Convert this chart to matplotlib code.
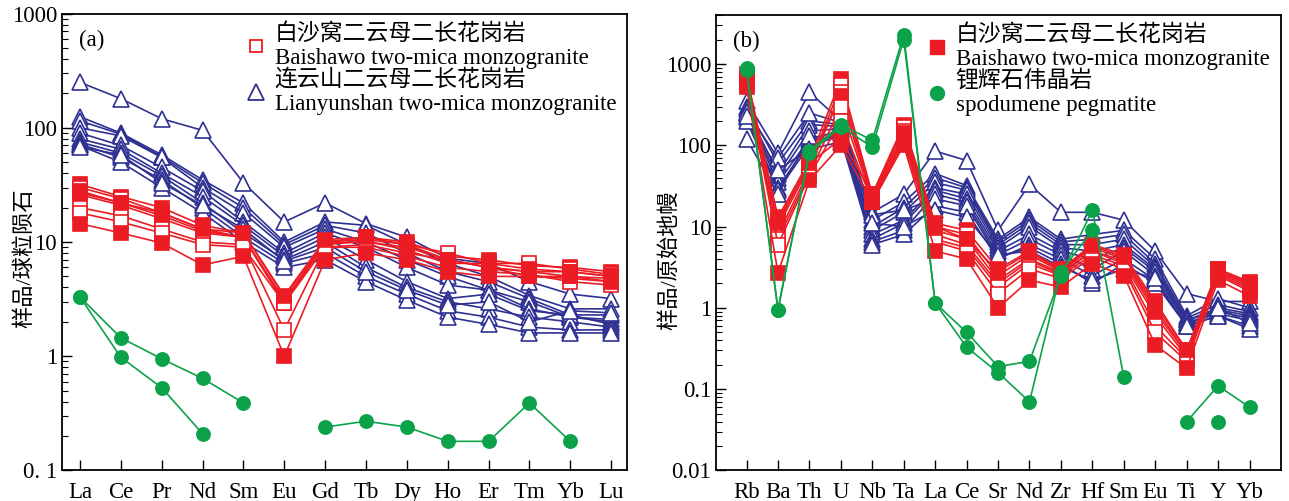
import numpy as np
import matplotlib
matplotlib.use("Agg")
import matplotlib.pyplot as plt

nan = np.nan

# ---- panel (a): chondrite-normalised REE ----
ree = ['La', 'Ce', 'Pr', 'Nd', 'Sm', 'Eu', 'Gd', 'Tb', 'Dy', 'Ho', 'Er', 'Tm', 'Yb', 'Lu']

ree_lianyunshan = [
    [250, 180, 120, 95, 33, 15, 22, 14.5, 11, 7.2, 6.5, 4.5, 3.5, 3.2],
    [125, 90, 58, 35, 22, 10, 15, 14, 9.5, 6.5, 5.0, 3.4, 2.6, 2.6],
    [115, 88, 56, 33, 20, 9.5, 14, 12, 8.0, 5.5, 4.5, 3.2, 2.3, 2.3],
    [100, 85, 55, 30, 18, 9.0, 13, 10, 7.0, 5.0, 3.8, 3.0, 2.2, 2.1],
    [90, 70, 45, 28, 15, 8.0, 12, 9.0, 6.0, 4.2, 3.8, 2.6, 2.2, 2.0],
    [80, 65, 40, 25, 14, 7.5, 11, 7.0, 4.5, 3.2, 3.5, 2.5, 2.3, 1.9],
    [75, 60, 38, 22, 12, 7.0, 10, 6.0, 4.0, 3.0, 2.6, 2.2, 2.0, 1.8],
    [72, 55, 35, 20, 11, 6.5, 8.0, 5.0, 3.5, 2.5, 2.2, 1.8, 1.7, 1.7],
    [70, 50, 30, 18, 10, 6.0, 7.0, 4.5, 3.1, 2.2, 1.9, 1.6, 1.6, 1.6],
    [68, 58, 33, 21, 13, 6.8, 9.0, 5.5, 3.8, 2.8, 3.0, 2.0, 2.5, 2.4],
]

ree_baishawo = [
    [32, 25, 20, 14, 12, 3.3, 10, 11, 10, 7.5, 7.0, 6.2, 6.0, 5.5],
    [30, 24, 18, 13, 11, 3.0, 10, 10.5, 9.5, 8.0, 6.5, 6.5, 5.8, 5.2],
    [27, 22, 17, 12.5, 11, 2.9, 9.8, 10, 9.0, 7.0, 6.0, 5.5, 5.5, 5.0],
    [26, 21, 16, 12, 11, 3.1, 9.5, 10.2, 8.5, 6.5, 6.5, 5.8, 5.5, 5.0],
    [20, 17, 13, 10, 9.5, 1.7, 9.0, 9.5, 8.0, 7.0, 6.0, 5.0, 4.8, 4.5],
    [18, 15, 12, 9.5, 9.0, 2.9, 9.0, 9.0, 7.5, 6.0, 5.5, 5.2, 4.5, 4.2],
    [14.5, 12, 9.8, 6.3, 7.5, 1.0, 7.0, 8.0, 7.0, 5.5, 5.0, 5.0, 5.0, 4.8],
    [28, 22, 18, 13, 12, 3.4, 10.5, 11, 9.5, 7.0, 6.0, 5.5, 5.0, 4.5],
]
ree_baishawo_filled = [True, False, False, True, False, False, True, True]

ree_pegmatite = [
    [3.3, 1.45, 0.95, 0.64, 0.39, nan, 0.24, 0.27, 0.24, 0.18, 0.18, 0.39, 0.18, nan],
    [3.3, 0.98, 0.53, 0.21, nan, nan, nan, nan, nan, nan, nan, nan, nan, nan],
]

# ---- panel (b): primitive-mantle-normalised trace elements ----
trace = ['Rb', 'Ba', 'Th', 'U', 'Nb', 'Ta', 'La', 'Ce', 'Sr', 'Nd', 'Zr', 'Hf',
         'Sm', 'Eu', 'Ti', 'Y', 'Yb']

tr_lianyunshan = [
    [350, 80, 450, 200, 15, 25, 85, 65, 9.0, 33, 15, 15, 12, 5.0, 1.5, 1.2, 1.2],
    [300, 60, 200, 180, 12, 20, 45, 32, 7.0, 13, 7.0, 8.0, 9.0, 4.0, 0.8, 1.3, 1.0],
    [280, 45, 180, 170, 10, 17, 40, 30, 6.5, 12, 6.5, 7.0, 8.0, 3.5, 0.75, 1.1, 0.9],
    [250, 40, 150, 160, 9.0, 15, 35, 28, 6.0, 11, 6.0, 6.0, 7.0, 3.2, 0.7, 1.0, 0.85],
    [240, 35, 120, 150, 8.0, 12, 30, 25, 5.5, 10, 5.5, 5.0, 6.0, 3.0, 0.7, 0.95, 0.8],
    [220, 30, 110, 140, 7.0, 11, 28, 22, 5.0, 8.0, 5.0, 4.0, 5.5, 2.8, 0.65, 0.9, 0.75],
    [200, 28, 100, 130, 6.5, 9.0, 25, 20, 4.5, 7.0, 4.5, 3.0, 5.0, 2.5, 0.65, 0.85, 0.7],
    [120, 25, 130, 120, 6.0, 8.0, 18, 15, 4.0, 6.0, 4.0, 2.5, 4.0, 2.2, 0.6, 0.8, 0.6],
    [260, 70, 250, 190, 14, 16, 22, 18, 4.2, 5.5, 3.5, 2.0, 3.5, 2.0, 0.6, 0.8, 0.55],
    [230, 50, 90, 110, 11, 10, 16, 13, 4.5, 5.0, 3.2, 2.2, 3.0, 2.3, 0.6, 1.0, 0.65],
]

tr_baishawo = [
    [700, 13, 65, 650, 25, 180, 11, 9.0, 3.0, 5.0, 3.0, 6.0, 4.5, 1.2, 0.3, 3.0, 2.1],
    [650, 10, 55, 550, 24, 170, 10, 8.0, 2.5, 4.5, 2.8, 5.5, 4.0, 1.0, 0.28, 2.9, 2.0],
    [600, 8.0, 50, 450, 23, 150, 9.0, 7.0, 2.2, 4.0, 2.7, 5.0, 3.8, 0.9, 0.27, 2.8, 1.9],
    [620, 12, 60, 400, 22, 130, 8.0, 6.0, 2.0, 3.8, 2.6, 5.0, 3.5, 0.8, 0.25, 2.7, 1.8],
    [580, 7.0, 45, 300, 21, 120, 7.0, 5.5, 1.8, 3.5, 2.5, 4.5, 3.3, 0.6, 0.24, 2.6, 1.7],
    [560, 6.0, 42, 200, 20, 110, 6.5, 5.0, 1.5, 3.0, 2.3, 4.2, 3.0, 0.5, 0.22, 2.5, 1.6],
    [520, 2.7, 37, 100, 20, 100, 5.0, 4.0, 1.0, 2.2, 1.8, 3.5, 2.5, 0.35, 0.18, 2.2, 1.4],
    [750, 11, 60, 120, 25, 140, 10, 7.0, 2.8, 4.8, 2.9, 5.8, 4.2, 1.1, 0.3, 3.0, 2.0],
]
tr_baishawo_filled = [True, False, False, True, False, False, True, True]

tr_pegmatite = [
    [900, 0.95, 85, 180, 115, 2300, 1.15, 0.5, 0.19, 0.22, 2.5, 16, 0.14, nan, 0.04, 0.11, 0.06],
    [850, 0.95, 80, 170, 95, 2000, 1.15, 0.33, 0.16, 0.07, 2.8, 9.0, nan, nan, nan, 0.04, nan],
]

RED = '#ec1c24'
BLUE = '#2e3192'
GREEN = '#0ca24a'

plt.rcParams['font.family'] = ['Liberation Serif', 'Noto Sans CJK SC', 'DejaVu Sans']
plt.rcParams['axes.unicode_minus'] = False

fig = plt.figure(figsize=(12.89, 5.01), dpi=100)
ax1 = fig.add_axes([0.0481, 0.0609, 0.4387, 0.912])
ax2 = fig.add_axes([0.5555, 0.0609, 0.4383, 0.909])


def draw_lines(ax, rows, color, marker, ms, filled=None, z=2):
    x = np.arange(len(rows[0]))
    for i, row in enumerate(rows):
        face = color if (filled is None or filled[i]) else 'white'
        if marker == '^':
            face = 'white'
        ax.plot(x, row, color=color, lw=1.2, marker=marker, ms=ms,
                mfc=face, mec=color, mew=1.2, zorder=z)


def style_axis(ax, names, xlim, ylim):
    ax.set_yscale('log')
    ax.set_xlim(*xlim)
    ax.set_ylim(*ylim)
    ax.set_xticks(np.arange(len(names)))
    ax.set_xticklabels(names)
    ax.tick_params(axis='both', which='major', direction='in', length=7,
                   width=1.0, labelsize=16.5, top=False, right=False)
    ax.tick_params(axis='y', which='minor', direction='in', length=4,
                   width=0.8, right=False)
    ax.tick_params(axis='x', which='major', pad=8)
    for s in ax.spines.values():
        s.set_linewidth(1.3)


# panel (a)
draw_lines(ax1, ree_lianyunshan, BLUE, '^', 11)
draw_lines(ax1, ree_baishawo, RED, 's', 10, ree_baishawo_filled, z=3)
draw_lines(ax1, ree_pegmatite, GREEN, 'o', 9.5, z=4)
style_axis(ax1, ree, (-0.44, 13.4), (0.1, 1000))
ax1.set_yticks([0.1, 1, 10, 100, 1000])
ax1.set_yticklabels(['0. 1', '1', '10', '100', '1000'])
ax1.set_ylabel('样品/球粒陨石', fontsize=16)
ax1.yaxis.set_label_coords(-0.048, 0.465)
ax1.text(0.03, 0.965, '(a)', transform=ax1.transAxes, fontsize=16.5, va='top')

h1 = ax1.plot([], [], ls='none', marker='s', ms=9, mfc='white', mec=RED, mew=1.3,
              label='白沙窝二云母二长花岗岩\nBaishawo two-mica monzogranite')[0]
h2 = ax1.plot([], [], ls='none', marker='^', ms=11, mfc='white', mec=BLUE, mew=1.3,
              label='连云山二云母二长花岗岩\nLianyunshan two-mica monzogranite')[0]
ax1.legend(handles=[h1, h2], loc='upper right', frameon=False, fontsize=16.5,
           handletextpad=0.3, labelspacing=0.0, borderaxespad=0.1,
           handlelength=1.0, bbox_to_anchor=(1.0, 1.005))

# panel (b)
draw_lines(ax2, tr_lianyunshan, BLUE, '^', 11)
draw_lines(ax2, tr_baishawo, RED, 's', 10, tr_baishawo_filled, z=3)
draw_lines(ax2, tr_pegmatite, GREEN, 'o', 9.5, z=4)
style_axis(ax2, trace, (-0.97, 17.0), (0.01, 4000))
ax2.set_yticks([0.01, 0.1, 1, 10, 100, 1000])
ax2.set_yticklabels(['0.01', '0.1', '1', '10', '100', '1000'])
ax2.set_ylabel('样品/原始地幔', fontsize=16)
ax2.yaxis.set_label_coords(-0.063, 0.462)
ax2.text(0.03, 0.965, '(b)', transform=ax2.transAxes, fontsize=16.5, va='top')

h3 = ax2.plot([], [], ls='none', marker='s', ms=10, mfc=RED, mec=RED,
              label='白沙窝二云母二长花岗岩\nBaishawo two-mica monzogranite')[0]
h4 = ax2.plot([], [], ls='none', marker='o', ms=10, mfc=GREEN, mec=GREEN,
              label='锂辉石伟晶岩\nspodumene pegmatite')[0]
ax2.legend(handles=[h3, h4], loc='upper left', frameon=False, fontsize=16.5,
           handletextpad=0.3, labelspacing=0.0, borderaxespad=0.1,
           handlelength=1.0, bbox_to_anchor=(0.351, 1.005))

fig.savefig('out.png', dpi=100)
